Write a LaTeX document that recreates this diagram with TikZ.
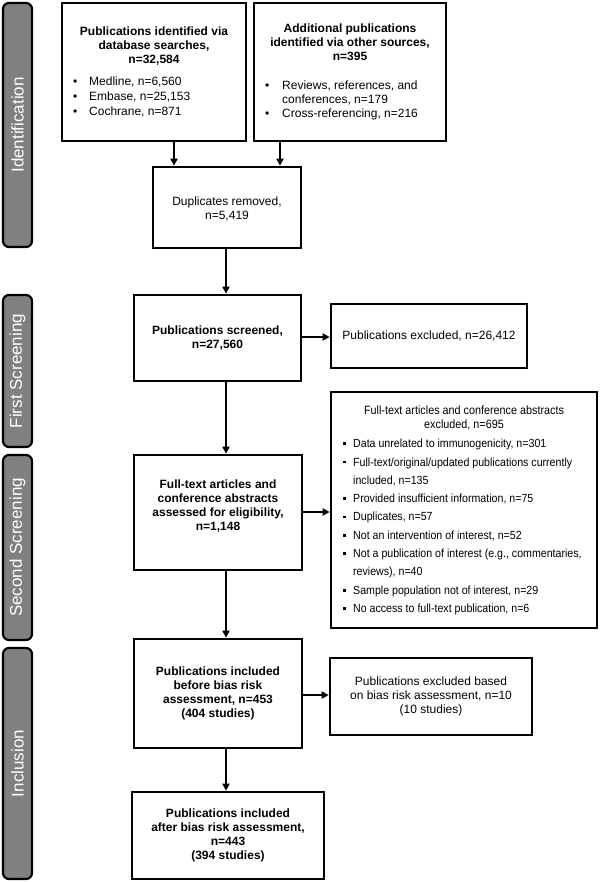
\documentclass[tikz,border=0pt]{standalone}
\usepackage{fontspec}
\setmainfont{Liberation Sans}
\newfontfamily\narrowfont[FakeStretch=0.9]{Liberation Sans}
\usetikzlibrary{arrows.meta}
\definecolor{bargray}{RGB}{128,128,128}
\newcommand\rbul{\makebox[16pt][l]{\textbullet}}
\newcommand\sqbul{\makebox[10pt][l]{\rule[2.6pt]{2.8pt}{2.8pt}}}
\begin{document}
\begin{tikzpicture}[x=1pt,y=-1pt,
  box/.style={draw, line width=2.6pt, inner sep=0pt, align=center},
  bold/.style={font=\fontsize{12}{14}\selectfont\bfseries, align=center},
  reg/.style={font=\fontsize{12}{14}\selectfont, align=center},
  txt/.style={inner sep=0pt},
  arr/.style={line width=2.1pt, -{Triangle[length=7pt,width=7pt]}},
  bar/.style={draw=black, line width=2.2pt, fill=bargray, rounded corners=6pt,
    rotate=90, text=white, font=\fontsize{17}{19}\selectfont, inner sep=0pt,
    minimum height=29pt}]
\useasboundingbox (0,0) rectangle (600,882);

% side bars
\node[bar, minimum width=244pt] (barId) at (17.5,125) {Identification};
\node[bar, minimum width=152pt] (barFs) at (17.5,371) {First Screening};
\node[bar, minimum width=185pt] (barSs) at (17.5,547.5) {Second Screening};
\node[bar, minimum width=231pt] (barIn) at (17.5,763.5) {Inclusion};

% identification boxes
\node[box, minimum width=184pt, minimum height=138pt] (boxA) at (154,72) {};
\node[txt, bold] (titleA) at (154,46) {Publications identified via\\database searches,\\n=32,584};
\node[txt, anchor=west, font=\fontsize{12}{15}\selectfont, align=left] (listA) at (73,97)
  {\rbul Medline, n=6,560\\\rbul Embase, n=25,153\\\rbul Cochrane, n=871};

\node[box, minimum width=192pt, minimum height=138pt] (boxB) at (350,72) {};
\node[txt, bold] (titleB) at (350,42) {Additional publications\\identified via other sources,\\n=395};
\node[txt, anchor=west, font=\fontsize{12}{14}\selectfont, align=left] (listB) at (265,100)
  {\makebox[17pt][l]{\textbullet}Reviews, references, and\\\makebox[17pt][l]{}conferences, n=179\\\makebox[17pt][l]{\textbullet}Cross-referencing, n=216};

\node[box, reg, minimum width=148pt, minimum height=81pt] (dup) at (227,207.5) {};
\node[txt, reg] (dupT) at (227,209) {Duplicates removed,\\n=5,419};

% first screening
\node[box, bold, minimum width=167pt, minimum height=86pt] (scr) at (217.5,338) {Publications screened,\\n=27,560};
\node[box, reg, minimum width=196pt, minimum height=64pt] (exc1) at (429,336) {Publications excluded, n=26,412};

% second screening
\node[box, minimum width=168pt, minimum height=115pt] (ft) at (218,512.5) {};
\node[txt, bold] (ftT) at (218,506) {Full-text articles and\\conference abstracts\\assessed for eligibility,\\n=1,148};

\node[box, minimum width=266pt, minimum height=236pt] (exc2) at (464,510) {};
\node[txt, font=\narrowfont\fontsize{12}{14}\selectfont, align=center] (exc2T) at (464,418)
  {Full-text articles and conference abstracts\\excluded, n=695};
\node[txt, anchor=west, font=\narrowfont\fontsize{11.8}{18.3}\selectfont, align=left] (exc2L) at (343,527)
  {\sqbul Data unrelated to immunogenicity, n=301\\
   \sqbul Full-text/original/updated publications currently\\
   \makebox[10pt][l]{}included, n=135\\
   \sqbul Provided insufficient information, n=75\\
   \sqbul Duplicates, n=57\\
   \sqbul Not an intervention of interest, n=52\\
   \sqbul Not a publication of interest (e.g., commentaries,\\
   \makebox[10pt][l]{}reviews), n=40\\
   \sqbul Sample population not of interest, n=29\\
   \sqbul No access to full-text publication, n=6};

% inclusion
\node[box, bold, minimum width=168pt, minimum height=109pt] (inc) at (218,693.5)
  {Publications included\\before bias risk\\assessment, n=453\\(404 studies)};
\node[box, reg, minimum width=202pt, minimum height=77pt] (bias) at (431,696.5)
  {Publications excluded based\\on bias risk assessment, n=10\\(10 studies)};
\node[box, bold, minimum width=192pt, minimum height=87pt] (fin) at (228,835.5)
  {Publications included\\after bias risk assessment,\\n=443\\(394 studies)};

% connectors
\coordinate (ax) at (174,0);
\coordinate (bx) at (280,0);
\coordinate (mx) at (226,0);
\coordinate (y1) at (0,337);
\coordinate (y2) at (0,512);
\coordinate (y3) at (0,695);
\draw[arr] (boxA.south -| ax) -- (dup.north -| ax);
\draw[arr] (boxB.south -| bx) -- (dup.north -| bx);
\draw[arr] (dup.south -| mx) -- (scr.north -| mx);
\draw[arr] (scr.south -| mx) -- (ft.north -| mx);
\draw[arr] (ft.south -| mx) -- (inc.north -| mx);
\draw[arr] (inc.south -| mx) -- (fin.north -| mx);
\draw[arr] (scr.east |- y1) -- (exc1.west |- y1);
\draw[arr] (ft.east |- y2) -- (exc2.west |- y2);
\draw[arr] (inc.east |- y3) -- (bias.west |- y3);
\end{tikzpicture}
\end{document}
